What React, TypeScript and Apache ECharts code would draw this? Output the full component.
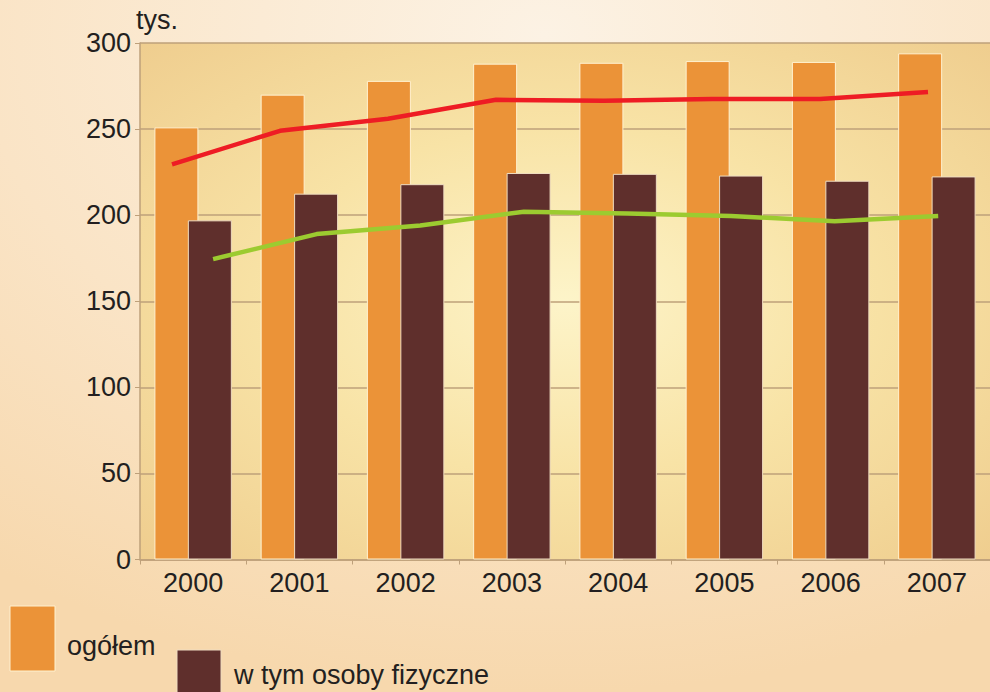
import React, { useEffect, useRef } from "react";
import * as echarts from "echarts";

const years = ["2000", "2001", "2002", "2003", "2004", "2005", "2006", "2007"];
const ogolemBars = [251, 270, 278, 288, 288.5, 289.5, 289, 294];
const osobyBars = [197, 212.5, 218, 224.5, 224, 223, 220, 222.5];
const ogolemLine = [229.5, 249, 256, 267, 266.5, 267.5, 267.5, 271.5];
const osobyLine = [174.5, 189, 194, 202, 201, 199.5, 196.5, 199.5];
const yTicks = { min: 0, max: 300, interval: 50 };
const unitLabel = "tys.";
const legendNames = ["ogółem", "w tym osoby fizyczne"];

const FONT = "Liberation Sans, Arial, sans-serif";
const FS = 27;
const TXT = "#231f20";
const AXIS = "#bea07a";
const ORANGE = "#eb9338";
const BROWN = "#5f2f2c";

export default function App() {
  const ref = useRef<HTMLDivElement>(null);
  useEffect(() => {
    if (!ref.current) return;
    const chart = echarts.init(ref.current, null, { renderer: "svg" });
    const top = 43;
    const bottom = 132.5;
    const hiddenAxisX = (gi: number) => ({
      type: "category",
      data: years,
      gridIndex: gi,
      show: false,
    });
    const hiddenAxisY = (gi: number) => ({
      type: "value",
      gridIndex: gi,
      min: yTicks.min,
      max: yTicks.max,
      show: false,
      splitLine: { show: false },
    });
    chart.setOption({
      animation: false,
      backgroundColor: {
        type: "radial",
        x: 0.55,
        y: 0.05,
        r: 0.95,
        colorStops: [
          { offset: 0, color: "#fcf2e4" },
          { offset: 0.6, color: "#fae4c6" },
          { offset: 1, color: "#f7d8ad" },
        ],
      },
      textStyle: { fontFamily: FONT },
      grid: [
        {
          left: 140,
          top,
          right: -7,
          bottom,
          show: true,
          borderWidth: 0,
          backgroundColor: {
            type: "radial",
            x: 0.5,
            y: 0.5,
            r: 0.75,
            colorStops: [
              { offset: 0, color: "#fdf4c9" },
              { offset: 0.45, color: "#f8e3a6" },
              { offset: 1, color: "#eecb8c" },
            ],
          },
        },
        { left: 118, top, width: 864, bottom },
        { left: 161.3, top, width: 859, bottom },
      ],
      xAxis: [
        {
          type: "category",
          data: years,
          gridIndex: 0,
          axisLine: { lineStyle: { color: AXIS, width: 1.5 } },
          axisTick: { show: true, length: 5, lineStyle: { color: AXIS } },
          axisLabel: { fontSize: FS, color: TXT, margin: 10, fontFamily: FONT },
        },
        hiddenAxisX(1),
        hiddenAxisX(2),
      ],
      yAxis: [
        {
          type: "value",
          gridIndex: 0,
          min: yTicks.min,
          max: yTicks.max,
          interval: yTicks.interval,
          axisLine: { show: true, lineStyle: { color: AXIS, width: 1.5 } },
          axisTick: { show: true, length: 5, lineStyle: { color: AXIS } },
          axisLabel: { fontSize: FS, color: TXT, margin: 9, fontFamily: FONT },
          splitLine: { show: true, lineStyle: { color: AXIS, width: 1.5 } },
        },
        hiddenAxisY(1),
        hiddenAxisY(2),
      ],
      graphic: [
        {
          type: "text",
          left: 136,
          top: 6,
          style: { text: unitLabel, font: `${FS}px ${FONT}`, fill: TXT },
        },
        {
          type: "rect",
          shape: { x: 10, y: 606, width: 45, height: 65 },
          style: { fill: ORANGE, stroke: "#fff1cf", lineWidth: 1 },
        },
        {
          type: "text",
          x: 67,
          y: 646,
          style: {
            text: legendNames[0],
            font: `${FS}px ${FONT}`,
            fill: TXT,
            verticalAlign: "middle",
          },
        },
        {
          type: "rect",
          shape: { x: 177, y: 650, width: 44, height: 60 },
          style: { fill: BROWN, stroke: "#efdcc0", lineWidth: 1 },
        },
        {
          type: "text",
          x: 234,
          y: 675,
          style: {
            text: legendNames[1],
            font: `${FS}px ${FONT}`,
            fill: TXT,
            verticalAlign: "middle",
          },
        },
      ],
      series: [
        {
          name: legendNames[0],
          type: "bar",
          xAxisIndex: 0,
          yAxisIndex: 0,
          data: ogolemBars,
          barWidth: 44,
          barGap: "-24%",
          itemStyle: { color: ORANGE, borderColor: "#fff1cf", borderWidth: 1 },
        },
        {
          name: legendNames[1],
          type: "bar",
          xAxisIndex: 0,
          yAxisIndex: 0,
          data: osobyBars,
          barWidth: 44,
          itemStyle: { color: BROWN, borderColor: "#efdcc0", borderWidth: 1 },
        },
        {
          name: "ogółem – linia",
          type: "line",
          xAxisIndex: 1,
          yAxisIndex: 1,
          data: ogolemLine,
          symbol: "none",
          lineStyle: { color: "#ee1c24", width: 4.5 },
          z: 5,
        },
        {
          name: "osoby fizyczne – linia",
          type: "line",
          xAxisIndex: 2,
          yAxisIndex: 2,
          data: osobyLine,
          symbol: "none",
          lineStyle: { color: "#9ccb30", width: 4.5 },
          z: 5,
        },
      ],
    });
    return () => chart.dispose();
  }, []);
  return (
    <div
      ref={ref}
      style={{ position: "absolute", left: 0, top: 0, width: 990, height: 692 }}
    />
  );
}
